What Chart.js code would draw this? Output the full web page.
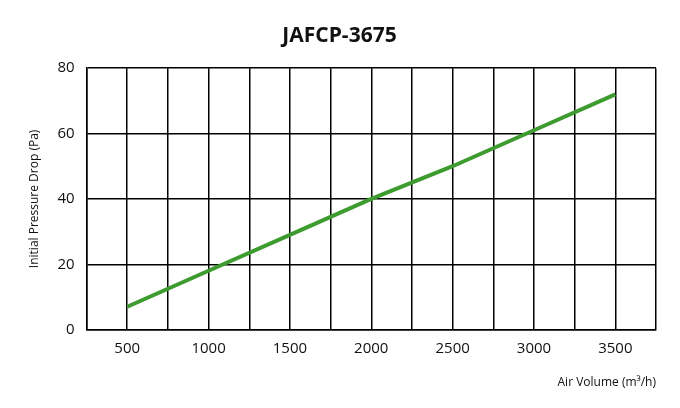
<!DOCTYPE html>
<html>
<head>
<script src="https://cdn.jsdelivr.net/npm/chart.js@4"></script>
<style>
body{margin:0;background:#fff;}
#wrap{width:680px;height:408px;}
</style>
</head>
<body>
<div id="wrap"><canvas id="myChart"></canvas></div>
<script>
// air volume (m3/h) vs initial pressure drop (Pa)
var airVolume = [500, 1000, 1500, 2000, 2500, 3000, 3500];
var pressureDrop = [7, 18, 29, 40, 50, 61, 72];

const config = {
    type: "line",
    data: {
        datasets: [{
            label: "JAFCP-3675",
            data: airVolume.map((x, i) => ({x: x, y: pressureDrop[i]})),
            borderColor: "#3d9b2f",
            borderWidth: 4,
            pointRadius: 0,
            tension: 0
        }]
    },
    options: {
        responsive: true,
        maintainAspectRatio: false,
        animation: false,
        layout: {padding: {left: 23, right: 24, top: 15, bottom: 14}},
        plugins: {
            legend: {display: false},
            title: {
                display: true,
                text: "JAFCP-3675",
                color: "#111",
                font: {family: "Open Sans", size: 21, weight: "bold"},
                padding: {top: 8, bottom: 20}
            }
        },
        scales: {
            x: {
                type: "linear",
                min: 250,
                max: 3750,
                border: {color: "#000", width: 1.5},
                grid: {color: "#000", lineWidth: 1.5, drawTicks: false},
                ticks: {
                    stepSize: 250,
                    color: "#111",
                    padding: 10,
                    font: {family: "Open Sans", size: 15},
                    callback: v => (v % 500 === 0 ? v : "")
                },
                title: {
                    display: true,
                    text: "Air Volume (m³/h)",
                    align: "end",
                    color: "#111",
                    font: {family: "Open Sans", size: 12},
                    padding: {top: 8}
                }
            },
            y: {
                min: 0,
                max: 80,
                border: {color: "#000", width: 1.5},
                grid: {color: "#000", lineWidth: 1.5, drawTicks: false},
                ticks: {
                    stepSize: 20,
                    color: "#111",
                    padding: 12,
                    font: {family: "Open Sans", size: 15}
                },
                title: {
                    display: true,
                    text: "Initial Pressure Drop (Pa)",
                    color: "#111",
                    font: {family: "Open Sans", size: 12}
                }
            }
        }
    }
};
new Chart(document.getElementById("myChart").getContext("2d"), config);
</script>
</body>
</html>
